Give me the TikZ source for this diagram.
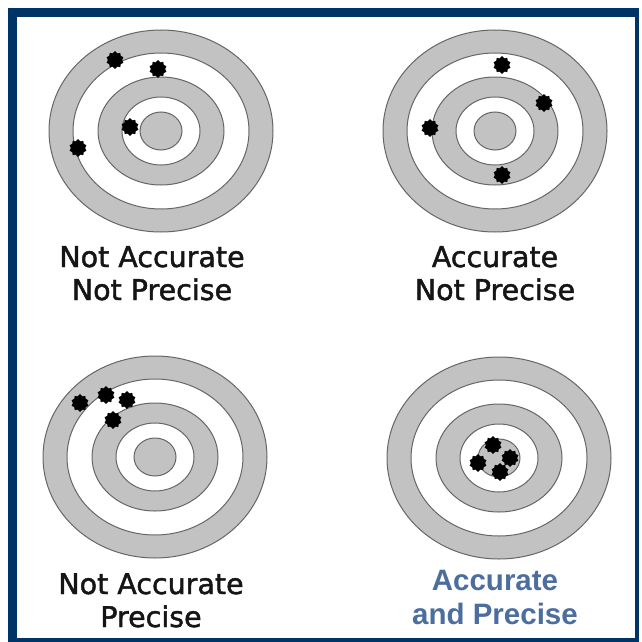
\documentclass[tikz,border=0pt]{standalone}
\usepackage{fontspec}
\usepackage{xcolor}
\usepackage{tikz}
\usetikzlibrary{shapes.geometric,positioning}
\setmainfont{DejaVu Sans}
\newfontfamily\capfont{DejaVu Sans}[FakeBold=1.6]
\newfontfamily\goodfont{Liberation Sans}
\definecolor{tgtFrame}{HTML}{003366}
\definecolor{tgtRing}{HTML}{C2C2C2}
\definecolor{tgtEdge}{HTML}{666666}
\definecolor{tgtBlue}{HTML}{4C6E9F}
\definecolor{tgtText}{HTML}{151515}

\begin{document}
\begin{tikzpicture}[x=1pt, y=-1pt]
\tikzset{ring/.style={draw=tgtEdge, line width=1pt},
 shot/.style={star, star points=10, star point ratio=1.25, fill=black, draw=black,
  inner sep=0pt, minimum size=17pt},
 caption/.style={anchor=base, align=center, inner sep=0pt, text=tgtText,
  font=\capfont\fontsize{28.5}{33}\selectfont},
 goodcaption/.style={caption, text=tgtBlue, font=\goodfont\bfseries\fontsize{29.5}{34}\selectfont}}
\useasboundingbox (0,0) rectangle (641,642);

% frame
\fill[tgtFrame] (8,8) rectangle (639,642);
\fill[white] (17,17) rectangle (635,638);

% targets
\coordinate (t1) at (161,131);
\coordinate (t2) at (495,131);
\coordinate (t3) at (155,457);
\coordinate (t4) at (499,458);
\foreach \c in {t1,t2,t3,t4}{
  \foreach \rx/\ry/\col in {112/101/tgtRing, 88/78/white, 63/54/tgtRing, 39/34/white, 21/19/tgtRing}
    \draw[ring, fill=\col] (\c) ellipse [x radius=\rx pt, y radius=\ry pt];
}

% shots
\node[shot] (s11) at (115,60) {};
\node[shot] (s12) at (158,69) {};
\node[shot] (s13) at (130,127) {};
\node[shot] (s14) at (78,148) {};

\node[shot] (s21) at (502,65) {};
\node[shot] (s22) at (544,103) {};
\node[shot] (s23) at (430,128) {};
\node[shot] (s24) at (502,175) {};

\node[shot] (s31) at (80,403) {};
\node[shot] (s32) at (106,395) {};
\node[shot] (s33) at (127,400) {};
\node[shot] (s34) at (113,420) {};

\node[shot] (s41) at (493,445) {};
\node[shot] (s42) at (478,463) {};
\node[shot] (s43) at (500,472) {};
\node[shot] (s44) at (510,458) {};

% captions
\node[caption] (c1) at (152,300) {Not Accurate\\Not Precise};
\node[caption] (c2) at (495,300) {Accurate\\Not Precise};
\node[caption] (c3) at (151,627) {Not Accurate\\Precise};
\node[goodcaption] (c4) at (495,624) {Accurate\\and Precise};
\end{tikzpicture}
\end{document}
